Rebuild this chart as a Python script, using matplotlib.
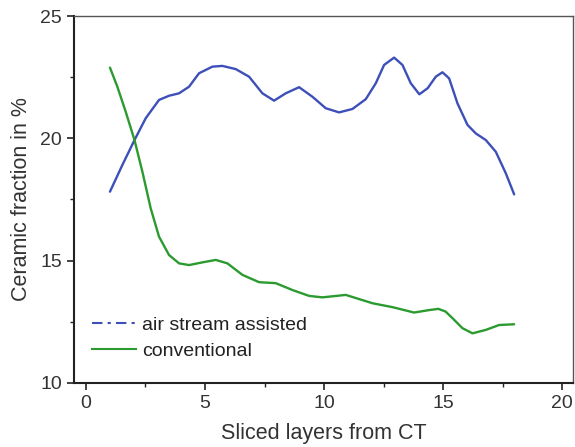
import matplotlib
matplotlib.use("Agg")
import matplotlib.pyplot as plt
from matplotlib.lines import Line2D
from matplotlib.ticker import MultipleLocator

plt.rcParams['font.family'] = ['Liberation Sans', 'DejaVu Sans']

# values
air_x = [1.01, 1.53, 2.04, 2.51, 3.07, 3.49, 3.91, 4.33, 4.75, 5.31, 5.73, 6.29,
         6.85, 7.41, 7.90, 8.39, 8.95, 9.51, 10.07, 10.63, 11.19, 11.75, 12.17,
         12.52, 12.94, 13.29, 13.64, 14.0, 14.35, 14.69, 14.97, 15.25, 15.6,
         16.02, 16.37, 16.79, 17.21, 17.63, 17.98]
air_y = [17.82, 18.91, 19.93, 20.82, 21.57, 21.74, 21.84, 22.11, 22.66, 22.93,
         22.96, 22.83, 22.52, 21.84, 21.54, 21.84, 22.09, 21.70, 21.23, 21.06,
         21.2, 21.6, 22.25, 23.0, 23.3, 23.0, 22.25, 21.8, 22.05, 22.52, 22.7,
         22.45, 21.43, 20.55, 20.2, 19.93, 19.45, 18.57, 17.71]

conv_x = [1.01, 1.32, 1.67, 2.04, 2.37, 2.72, 3.07, 3.49, 3.91, 4.33, 4.89, 5.45,
          5.94, 6.57, 7.27, 7.97, 8.67, 9.37, 9.93, 10.91, 12.03, 12.87, 13.78,
          14.41, 14.8, 15.1, 15.39, 15.81, 16.23, 16.79, 17.35, 17.98]
conv_y = [22.89, 22.11, 21.09, 19.93, 18.64, 17.14, 15.98, 15.23, 14.89, 14.82,
          14.93, 15.03, 14.89, 14.42, 14.12, 14.08, 13.8, 13.56, 13.5, 13.6, 13.26,
          13.1, 12.88, 12.98, 13.03, 12.92, 12.65, 12.24, 12.03, 12.17, 12.37, 12.4]

blue = '#3d4fb8'
green = '#2b9a2f'

fig = plt.figure(figsize=(5.75, 4.47), dpi=100)
ax = fig.add_axes([0.1287, 0.1432, 0.8678, 0.821])

ax.plot(air_x, air_y, color=blue, lw=1.7, solid_joinstyle='round', solid_capstyle='round')
ax.plot(conv_x, conv_y, color=green, lw=1.7, solid_joinstyle='round', solid_capstyle='round')

ax.set_xlim(-0.5, 20.45)
ax.set_ylim(10, 25)
ax.xaxis.set_major_locator(MultipleLocator(5))
ax.xaxis.set_minor_locator(MultipleLocator(2.5))
ax.yaxis.set_major_locator(MultipleLocator(5))
ax.yaxis.set_minor_locator(MultipleLocator(2.5))
ax.tick_params(which='major', direction='out', length=5, width=1.2,
               labelsize=14, labelcolor='#333333', color='#222222')
ax.tick_params(which='minor', direction='out', length=3, width=1.0, color='#222222')

for side in ['left', 'bottom']:
    ax.spines[side].set_linewidth(1.5)
    ax.spines[side].set_color('#222222')
for side in ['top', 'right']:
    ax.spines[side].set_linewidth(1.0)
    ax.spines[side].set_color('#555555')

ax.set_xlabel('Sliced layers from CT', fontsize=15.5, color='#333333', labelpad=8)
ax.set_ylabel('Ceramic fraction in %', fontsize=15.5, color='#333333', labelpad=6)

handles = [Line2D([], [], color=blue, lw=1.5, linestyle=(0, (5, 2.5, 1.5, 2.5))),
           Line2D([], [], color=green, lw=1.5)]
ax.legend(handles, ['air stream assisted', 'conventional'], loc='lower left',
          bbox_to_anchor=(0.0, 0.015), frameon=False, fontsize=14,
          handlelength=2.3, handletextpad=0.3, labelspacing=0.45,
          labelcolor='#222222')

fig.savefig('out.png', dpi=100)
